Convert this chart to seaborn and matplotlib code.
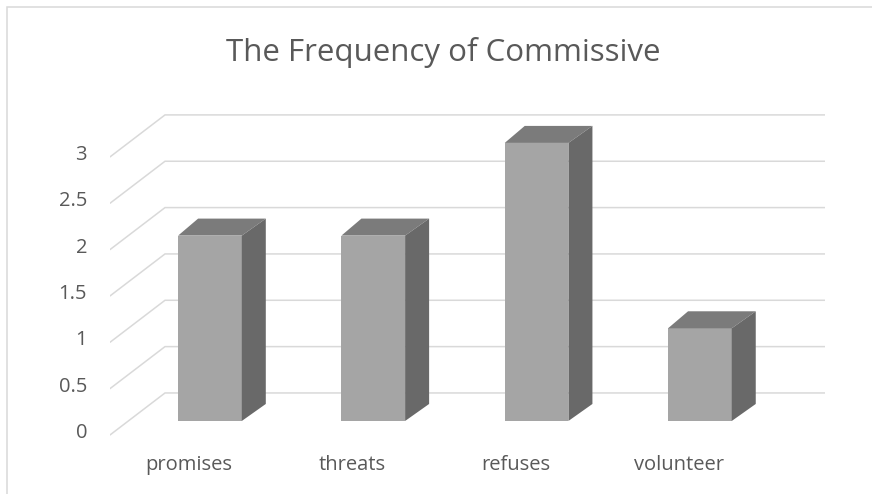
import numpy as np
import pandas as pd
import matplotlib.pyplot as plt
import seaborn as sns
from matplotlib.patches import Polygon, Rectangle
from matplotlib.transforms import ScaledTranslation

# ── Data ────────────────────────────────────────────────────
categories = ["promises", "threats", "refuses", "volunteer"]
counts     = [2, 2, 3, 1]
tick_vals  = [0, 0.5, 1, 1.5, 2, 2.5, 3]
tick_text  = ["0", "0.5", "1", "1.5", "2", "2.5", "3"]
title      = "The Frequency of Commissive"

# ── Style ───────────────────────────────────────────────────
sns.set_style("white")
plt.rcParams["font.family"] = ["Open Sans", "DejaVu Sans"]

FRONT = "#a5a5a5"
TOP   = "#7b7b7b"
SIDE  = "#696969"
GRID  = "#d9d9d9"
TEXT  = "#595959"

W, H, DPI = 872, 494, 100
fig = plt.figure(figsize=(W / DPI, H / DPI), dpi=DPI)

# axes = front plane of the bars (pixel box 110..825 x 100..470)
ax = fig.add_axes([110 / W, (H - 470) / H, 715 / W, 370 / H])

df = pd.DataFrame({"category": categories, "count": counts})
sns.barplot(data=df, x="category", y="count", color=FRONT, saturation=1,
            width=0.39, ax=ax, zorder=3, edgecolor="none")
ax.set_xlim(-0.612, 3.766)
ax.set_ylim(-0.529, 3.463)
ax.axis("off")

def px(dx, dy):
    # pixel offset (dy positive = up) as a transform
    return ScaledTranslation(dx / DPI, dy / DPI, fig.dpi_scale_trans)

def shift(pts, dx, dy):
    disp = ax.transData.transform(pts) + np.array([dx, dy])
    return ax.transData.inverted().transform(disp)

# ── Walls: back gridlines + left-wall diagonals ─────────────
x0, x1 = ax.get_xlim()
for v, t in zip(tick_vals, tick_text):
    front = shift([[x0, v]], 0, -14)[0]
    back  = shift([[x0, v]], 55, 28)[0]
    right = shift([[x1, v]], 0, 28)[0]
    ax.plot([front[0], back[0], right[0]], [front[1], back[1], right[1]],
            color=GRID, lw=1.1, zorder=1, solid_joinstyle="miter")
    ax.text(x0, v, t, ha="right", va="center", fontsize=14.5, color=TEXT,
            transform=ax.transData + px(-23, -12))

# ── 3D faces for each bar ───────────────────────────────────
DXL, DXR, DY = 20, 24, 17
for p in ax.patches:
    bx, bw, bh = p.get_x(), p.get_width(), p.get_height()
    fl, fr = [bx, bh], [bx + bw, bh]
    top = np.vstack([fl, fr, shift([fr], DXR, DY), shift([fl], DXL, DY)])
    side = np.vstack([fr, [bx + bw, 0], shift([[bx + bw, 0]], DXR, DY),
                      shift([fr], DXR, DY)])
    ax.add_patch(Polygon(top, closed=True, fc=TOP, ec="none", zorder=4))
    ax.add_patch(Polygon(side, closed=True, fc=SIDE, ec="none", zorder=4))

# ── Category labels ─────────────────────────────────────────
for i, c in enumerate(categories):
    ax.text(i, 0, c, ha="center", va="center", fontsize=14.5, color=TEXT,
            transform=ax.transData + px(-21, -44))

fig.text(443 / W, 1 - 52 / H, title, ha="center", va="center",
         fontsize=22.5, color=TEXT)

# chart frame (cut off at right and bottom like the screenshot)
fig.add_artist(Rectangle((6.5 / W, -0.1), 1.2, (H - 7) / H + 0.1,
                         transform=fig.transFigure, fill=False,
                         ec=GRID, lw=1.1))

plt.savefig("out.png", dpi=DPI)
plt.close()
